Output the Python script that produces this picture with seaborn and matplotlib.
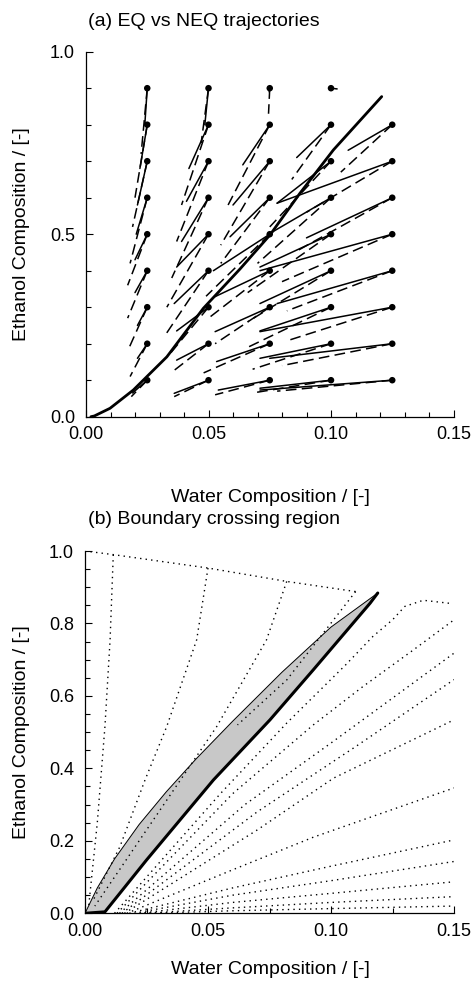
import numpy as np
import pandas as pd
import matplotlib
matplotlib.use("Agg")
import matplotlib.pyplot as plt
import seaborn as sns
from matplotlib.ticker import MultipleLocator, FixedLocator

sns.set_style("ticks")
plt.rcParams["font.family"] = ["Liberation Sans", "DejaVu Sans"]
plt.rcParams["text.color"] = "black"

# ---------------- Panel (a) data ----------------
# feed points (dots)
a_x0 = [0.025]*9 + [0.05]*9 + [0.075]*9 + [0.1]*9 + [0.125]*8
a_y0 = [0.1, 0.2, 0.3, 0.4, 0.5, 0.6, 0.7, 0.8, 0.9]*4 + [0.1, 0.2, 0.3, 0.4, 0.5, 0.6, 0.7, 0.8]
# EQ (solid) trajectory end points
eq_x1 = [0.019, 0.021, 0.021, 0.020, 0.020, 0.0205, 0.021, 0.022, 0.024,
         0.036, 0.037, 0.037, 0.036, 0.037, 0.039, 0.041, 0.042, 0.0485,
         0.054, 0.0533, 0.0527, 0.0527, 0.052, 0.0588, 0.060, 0.064, 0.0748,
         0.071, 0.071, 0.071, 0.071, 0.071, 0.074, 0.078, 0.086, 0.1025,
         0.071, 0.075, 0.071, 0.078, 0.071, 0.090, 0.078, 0.107]
eq_y1 = [0.065, 0.16, 0.25, 0.34, 0.43, 0.50, 0.58, 0.68, 0.80,
         0.064, 0.155, 0.235, 0.31, 0.41, 0.48, 0.59, 0.68, 0.80,
         0.073, 0.151, 0.233, 0.329, 0.40, 0.493, 0.58, 0.69, 0.89,
         0.078, 0.16, 0.235, 0.31, 0.41, 0.498, 0.585, 0.71, 0.898,
         0.073, 0.16, 0.233, 0.31, 0.40, 0.49, 0.585, 0.73]
# NEQ (dashed) trajectory end points
neq_x1 = [0.0185, 0.018, 0.017, 0.017, 0.017, 0.018, 0.019, 0.020, 0.0225,
          0.036, 0.036, 0.034, 0.032, 0.033, 0.035, 0.037, 0.039, 0.047,
          0.0527, 0.048, 0.0527, 0.050, 0.049, 0.055, 0.055, 0.058, 0.0745,
          0.068, 0.068, 0.066, 0.066, 0.066, 0.070, 0.075, 0.084, np.nan,
          0.078, 0.080, 0.083, 0.082, 0.080, 0.085, 0.090, 0.104]
neq_y1 = [0.055, 0.11, 0.18, 0.27, 0.36, 0.42, 0.52, 0.60, 0.72,
          0.055, 0.127, 0.17, 0.22, 0.30, 0.38, 0.48, 0.58, 0.75,
          0.06, 0.12, 0.20, 0.27, 0.33, 0.42, 0.47, 0.58, 0.83,
          0.065, 0.13, 0.19, 0.26, 0.34, 0.42, 0.52, 0.65, np.nan,
          0.07, 0.14, 0.21, 0.29, 0.37, 0.45, 0.56, 0.67]
# distillation boundary (thick curve)
bd_x = [0.002, 0.0034, 0.0098, 0.0193, 0.033, 0.0479, 0.0629, 0.0751, 0.0873, 0.101, 0.1207]
bd_y = [0.0, 0.002, 0.023, 0.073, 0.164, 0.297, 0.405, 0.498, 0.612, 0.731, 0.877]

# ---------------- Panel (b) data ----------------
# region upper (thin) and lower (thick) boundaries
bu_x = [0.0, 0.005, 0.012, 0.022, 0.033, 0.045, 0.060, 0.080, 0.100, 0.119]
bu_y = [0.0, 0.07, 0.15, 0.245, 0.335, 0.425, 0.53, 0.665, 0.79, 0.884]
bl_x = [0.0, 0.0081, 0.025, 0.0522, 0.0752, 0.0928, 0.1159, 0.119]
bl_y = [0.0, 0.004, 0.147, 0.368, 0.534, 0.672, 0.856, 0.884]
# dotted residue curves
top_x = [0.0, 0.0115, 0.050, 0.082, 0.110]
top_y = [1.0, 0.99, 0.953, 0.916, 0.888]
v1_x = [0.0115, 0.0102, 0.0081, 0.005, 0.0015]
v1_y = [0.99, 0.755, 0.515, 0.25, 0.02]
v2_x = [0.050, 0.0454, 0.0332, 0.0244, 0.0142, 0.0034]
v2_y = [0.953, 0.755, 0.515, 0.368, 0.184, 0.037]
v3_x = [0.082, 0.0738, 0.0535, 0.037, 0.020, 0.004]
v3_y = [0.916, 0.755, 0.515, 0.35, 0.18, 0.02]
v4_x = [0.110, 0.082, 0.062]
v4_y = [0.888, 0.644, 0.52]
f1_x = [0.012, 0.055, 0.082, 0.106, 0.117, 0.125, 0.130, 0.1375, 0.149]
f1_y = [0.0, 0.33, 0.525, 0.686, 0.764, 0.81, 0.847, 0.864, 0.855]
f2_x = [0.013, 0.060, 0.0928, 0.113, 0.1335, 0.15]
f2_y = [0.0, 0.33, 0.52, 0.626, 0.727, 0.81]
f3_x = [0.014, 0.065, 0.100, 0.15]
f3_y = [0.0, 0.30, 0.47, 0.718]
f4_x = [0.015, 0.070, 0.110, 0.15]
f4_y = [0.0, 0.28, 0.46, 0.645]
f5_x = [0.016, 0.070, 0.101, 0.15]
f5_y = [0.0, 0.23, 0.373, 0.534]
f6_x = [0.017, 0.060, 0.0928, 0.15]
f6_y = [0.0, 0.12, 0.21, 0.346]
f7_x = [0.018, 0.060, 0.100, 0.15]
f7_y = [0.0, 0.07, 0.13, 0.2025]
f8_x = [0.020, 0.060, 0.100, 0.15]
f8_y = [0.0, 0.05, 0.09, 0.143]
f9_x = [0.022, 0.060, 0.100, 0.15]
f9_y = [0.0, 0.03, 0.055, 0.087]
f10_x = [0.024, 0.060, 0.100, 0.15]
f10_y = [0.0, 0.015, 0.03, 0.046]
f11_x = [0.026, 0.060, 0.100, 0.15]
f11_y = [0.0, 0.007, 0.013, 0.02]

tick_lab_x = ["0.00", "0.05", "0.10", "0.15"]

# ---------------- build long tables ----------------
rows = []
for i in range(len(a_x0)):
    rows.append((f"{i}e", "EQ", a_x0[i], a_y0[i]))
    rows.append((f"{i}e", "EQ", eq_x1[i], eq_y1[i]))
    if not np.isnan(neq_x1[i]):
        rows.append((f"{i}n", "NEQ", a_x0[i], a_y0[i]))
        rows.append((f"{i}n", "NEQ", neq_x1[i], neq_y1[i]))
df_a = pd.DataFrame(rows, columns=["line", "kind", "x", "y"])

dotted = {"top": (top_x, top_y), "v1": (v1_x, v1_y), "v2": (v2_x, v2_y),
          "v3": (v3_x, v3_y), "v4": (v4_x, v4_y), "f1": (f1_x, f1_y),
          "f2": (f2_x, f2_y), "f3": (f3_x, f3_y), "f4": (f4_x, f4_y),
          "f5": (f5_x, f5_y), "f6": (f6_x, f6_y), "f7": (f7_x, f7_y),
          "f8": (f8_x, f8_y), "f9": (f9_x, f9_y), "f10": (f10_x, f10_y),
          "f11": (f11_x, f11_y)}
df_b = pd.DataFrame([(k, xx, yy) for k, (xs, ys) in dotted.items() for xx, yy in zip(xs, ys)],
                    columns=["line", "x", "y"])

# ---------------- figure ----------------
fig = plt.figure(figsize=(4.74, 9.84), dpi=100)
ax1 = fig.add_axes([86/474, 1-416.7/984, (453.5-86)/474, (416.7-51.7)/984])
ax2 = fig.add_axes([85/474, 1-913.3/984, (454-85)/474, (913.3-551)/984])

FS = 13
LFS = 14

# Panel (a)
sns.lineplot(data=df_a, x="x", y="y", units="line", style="kind", estimator=None, sort=False,
             dashes={"EQ": "", "NEQ": (7, 3.5)}, color="black", lw=1.1, legend=False, ax=ax1)
sns.lineplot(x=bd_x, y=bd_y, sort=False, estimator=None, color="black", lw=2.0, ax=ax1)
sns.scatterplot(x=a_x0, y=a_y0, color="black", s=22, edgecolor="none", ax=ax1, zorder=5)

# Panel (b)
poly_x = list(bu_x) + list(bl_x[::-1])
poly_y = list(bu_y) + list(bl_y[::-1])
ax2.fill(poly_x, poly_y, color="#c8c8c8", lw=0, zorder=1)
sns.lineplot(data=df_b, x="x", y="y", units="line", estimator=None, sort=False,
             color="black", lw=1.0, linestyle=(0, (1, 3)), ax=ax2)
sns.lineplot(x=bu_x, y=bu_y, sort=False, estimator=None, color="black", lw=0.7, ax=ax2)
sns.lineplot(x=bl_x, y=bl_y, sort=False, estimator=None, color="black", lw=2.2, ax=ax2)

for ax in (ax1, ax2):
    sns.despine(ax=ax, top=True, right=True)
    ax.set_xlim(0, 0.15)
    ax.set_ylim(0, 1.0)
    ax.xaxis.set_major_locator(FixedLocator([0, 0.05, 0.10, 0.15]))
    ax.set_xticklabels(tick_lab_x)
    ax.tick_params(which="both", direction="in", width=0.8, labelsize=FS, colors="black")
    ax.tick_params(which="major", length=5)
    ax.tick_params(which="minor", length=3.5)
    ax.tick_params(axis="y", pad=8)
    ax.tick_params(axis="x", pad=7)
    ax.set_xlabel("")
    ax.set_ylabel("")
    for s in ("left", "bottom"):
        ax.spines[s].set_linewidth(0.9)
        ax.spines[s].set_color("black")

ax1.xaxis.set_minor_locator(MultipleLocator(0.01))
ax1.yaxis.set_major_locator(FixedLocator([0, 0.5, 1.0]))
ax1.set_yticklabels(["0.0", "0.5", "1.0"])
ax1.yaxis.set_minor_locator(MultipleLocator(0.1))

ax2.xaxis.set_minor_locator(MultipleLocator(0.025))
ax2.yaxis.set_major_locator(FixedLocator([0, 0.2, 0.4, 0.6, 0.8, 1.0]))
ax2.set_yticklabels(["0.0", "0.2", "0.4", "0.6", "0.8", "1.0"])
ax2.yaxis.set_minor_locator(MultipleLocator(0.05))

# titles and axis labels
fig.text(88/474, 1-22/984, "(a) EQ vs NEQ trajectories", ha="left", va="center", fontsize=LFS)
fig.text(88/474, 1-520/984, "(b) Boundary crossing region", ha="left", va="center", fontsize=LFS)
fig.text(270/474, 1-498/984, "Water Composition / [-]", ha="center", va="center", fontsize=LFS)
fig.text(270/474, 1-970/984, "Water Composition / [-]", ha="center", va="center", fontsize=LFS)
fig.text(22/474, 1-234/984, "Ethanol Composition / [-]", ha="center", va="center",
         rotation=90, fontsize=LFS)
fig.text(22/474, 1-732/984, "Ethanol Composition / [-]", ha="center", va="center",
         rotation=90, fontsize=LFS)

fig.savefig("out.png", dpi=100)
